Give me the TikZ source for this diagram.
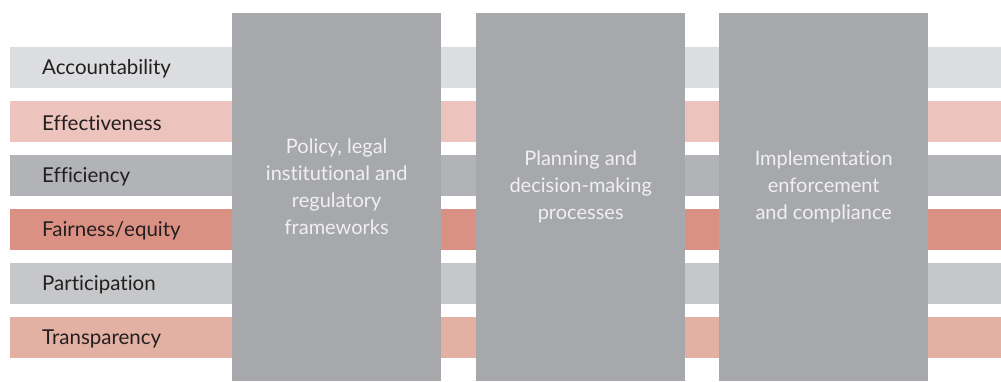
\documentclass[tikz,border=0pt]{standalone}
\usepackage{fontspec}
\setmainfont{Lato}[Ligatures=NoCommon]
\definecolor{barA}{HTML}{DCDDDF}
\definecolor{barB}{HTML}{ECC4BD}
\definecolor{barC}{HTML}{B1B3B6}
\definecolor{barD}{HTML}{DB9084}
\definecolor{barE}{HTML}{C6C7C9}
\definecolor{barF}{HTML}{E3B0A4}
\definecolor{colgray}{HTML}{A7A8AC}
\definecolor{labeltext}{HTML}{231F20}
\definecolor{coltext}{HTML}{F0F0F0}
\begin{document}
\begin{tikzpicture}[x=1pt,y=-1pt,
    bar/.style={anchor=north west,minimum width=991pt,minimum height=41pt,inner sep=0pt},
    barlabel/.style={anchor=west,inner sep=0pt,text=labeltext,font=\fontsize{20.5}{22}\selectfont},
    column/.style={fill=colgray,anchor=north west,minimum width=209pt,minimum height=368pt,inner sep=0pt},
    coltext/.style={text=coltext,align=center,inner sep=0pt,font=\fontsize{20}{27}\selectfont}]
    \useasboundingbox (0,0) rectangle (1001,381);
    % horizontal principle bars
    \foreach \lab/\col [count=\i from 0] in {Accountability/barA,Effectiveness/barB,Efficiency/barC,Fairness\slash equity/barD,Participation/barE,Transparency/barF}{
        \node[bar,fill=\col] (bar\i) at (10,47+54*\i) {};
        \node[barlabel] (lab\i) at ([xshift=32pt,yshift=-1pt]bar\i.west) {\lab};
    }
    % vertical stages
    \node[column] (policy) at (232,13) {};
    \node[column] (planning) at (476,13) {};
    \node[column] (implement) at (719,13) {};
    \node[coltext] (policytext) at ([yshift=10pt]policy.center) {Policy, legal\\institutional and\\regulatory\\frameworks};
    \node[coltext] (planningtext) at ([yshift=10pt]planning.center) {Planning and\\decision-making\\processes};
    \node[coltext] (implementtext) at ([yshift=10pt]implement.center) {Implementation\\enforcement\\and compliance};
\end{tikzpicture}
\end{document}
